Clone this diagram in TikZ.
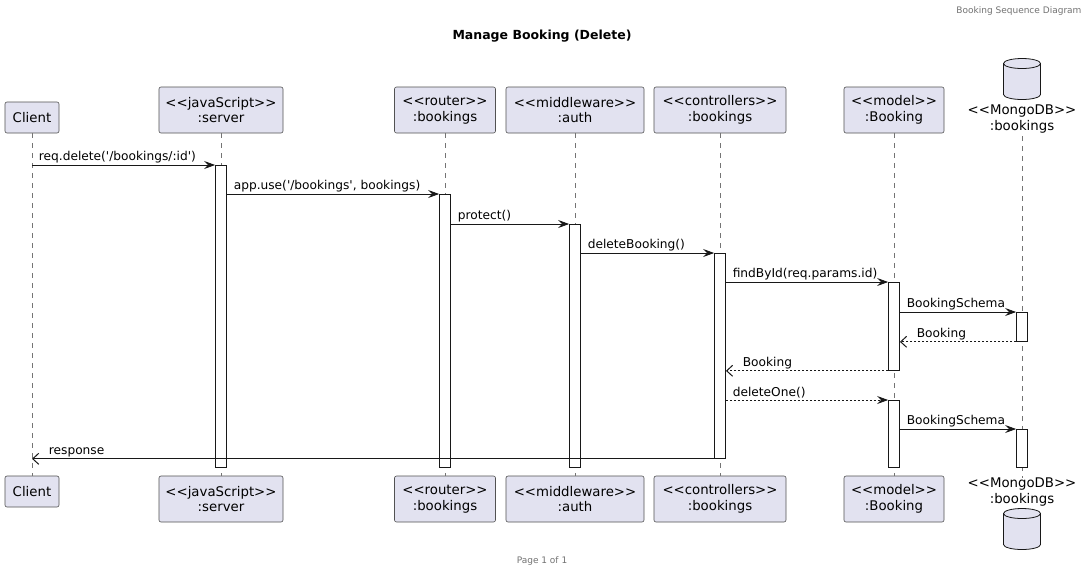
\documentclass[tikz,border=0pt]{standalone}
\usepackage{fontspec}
\setmainfont{DejaVu Sans}[Ligatures=TeXOff]
\usepackage{xcolor}
\usepackage{tikz}
\usetikzlibrary{arrows.meta}
\definecolor{boxC}{HTML}{E2E2F0}
\definecolor{lineC}{HTML}{181818}
\tikzset{
	part/.style={draw=lineC!75,fill=boxC,rounded corners=2pt,line width=0.6pt,align=center,inner sep=0pt,font=\fontsize{13.3}{15.5}\selectfont},
	dbname/.style={align=center,inner sep=0pt,font=\fontsize{13.3}{15.5}\selectfont},
	life/.style={draw=lineC!60,line width=0.5pt,dash pattern=on 5pt off 5pt},
	act/.style={draw=lineC,fill=white,line width=0.8pt,minimum width=11pt,inner sep=0pt},
	call/.style={draw=lineC,line width=0.8pt,-{Stealth[length=11pt,width=8pt,inset=4pt]}},
	ret/.style={draw=lineC,line width=0.8pt,dash pattern=on 2pt off 2pt,-{Straight Barb[length=6pt,width=11pt,line width=1pt]}},
	resp/.style={draw=lineC,line width=0.8pt,-{Straight Barb[length=6pt,width=11pt,line width=1pt]}},
	lbl/.style={anchor=south west,inner sep=1.5pt,font=\fontsize{12.2}{13}\selectfont},
	cyl/.style={draw=lineC,fill=boxC,line width=0.8pt}
}
\newcommand{\mongocyl}[2]{%
	\draw[cyl] (#1-18.5,#2-15.5) -- (#1-18.5,#2+15.5) arc[start angle=180,end angle=0,x radius=18.5,y radius=5]
		-- (#1+18.5,#2-15.5) arc[start angle=0,end angle=-180,x radius=18.5,y radius=5] -- cycle;
	\draw[cyl,fill=none] (#1-18.5,#2-15.5) arc[start angle=180,end angle=0,x radius=18.5,y radius=5];
}

\begin{document}
\begin{tikzpicture}[x=1pt,y=-1pt]
	\useasboundingbox[fill=white] (0,0) rectangle (1091,574);
	\node[anchor=east,text=black!55,font=\fontsize{9}{10}\selectfont] (hdr) at (1085,11) {Booking Sequence Diagram};
	\node[font=\bfseries\fontsize{12.5}{14}\selectfont] (title) at (542,36) {Manage Booking (Delete)};
	\node[text=black!55,font=\fontsize{9}{10}\selectfont] (ftr) at (542,561) {Page 1 of 1};
	\node[part,minimum width=54pt,minimum height=31pt] (client) at (32,117.5) {Client};
	\node[part,minimum width=124pt,minimum height=46pt] (server) at (221,110) {<<javaScript>>\\:server};
	\node[part,minimum width=101pt,minimum height=46pt] (router) at (445,110) {<<router>>\\:bookings};
	\node[part,minimum width=138pt,minimum height=46pt] (auth) at (575,110) {<<middleware>>\\:auth};
	\node[part,minimum width=132pt,minimum height=46pt] (ctrl) at (720,110) {<<controllers>>\\:bookings};
	\node[part,minimum width=100pt,minimum height=46pt] (model) at (894,110) {<<model>>\\:Booking};
	\mongocyl{1022}{79}
	\node[dbname] (db) at (1022,119) {<<MongoDB>>\\:bookings};
	\node[part,minimum width=54pt,minimum height=31pt] (clientB) at (32,491.5) {Client};
	\node[part,minimum width=124pt,minimum height=46pt] (serverB) at (221,499) {<<javaScript>>\\:server};
	\node[part,minimum width=101pt,minimum height=46pt] (routerB) at (445,499) {<<router>>\\:bookings};
	\node[part,minimum width=138pt,minimum height=46pt] (authB) at (575,499) {<<middleware>>\\:auth};
	\node[part,minimum width=132pt,minimum height=46pt] (ctrlB) at (720,499) {<<controllers>>\\:bookings};
	\node[part,minimum width=100pt,minimum height=46pt] (modelB) at (894,499) {<<model>>\\:Booking};
	\node[dbname] (dbB) at (1022,492) {<<MongoDB>>\\:bookings};
	\mongocyl{1022}{529}
	\foreach \a/\b in {client/clientB,server/serverB,router/routerB,auth/authB,ctrl/ctrlB,model/modelB}
		\draw[life] (\a.south) -- (\b.north);
	\draw[life] ([yshift=-3pt]db.south) -- (dbB.north);
	\foreach \n/\x/\t/\b in {srvAct/221/165/467,rtrAct/445/194/467,authAct/575/224/467,ctrlAct/720/253/458,mdlAct/894/282/370,dbAct/1022/312/341,mdlActB/894/400/467,dbActB/1022/429/467}
		\node[act,anchor=north,minimum height={(\b-\t)*1pt}] (\n) at (\x,\t) {};
	\draw[call] (client.south |- srvAct.north) -- (srvAct.north west) node[lbl,pos=0,xshift=5pt] {req.delete('/bookings/:id')};
	\draw[call] (srvAct.east |- rtrAct.north) -- (rtrAct.north west) node[lbl,pos=0,xshift=5pt] {app.use('/bookings', bookings)};
	\draw[call] (rtrAct.east |- authAct.north) -- (authAct.north west) node[lbl,pos=0,xshift=5pt] {protect()};
	\draw[call] (authAct.east |- ctrlAct.north) -- (ctrlAct.north west) node[lbl,pos=0,xshift=5pt] {deleteBooking()};
	\draw[call] (ctrlAct.east |- mdlAct.north) -- (mdlAct.north west) node[lbl,pos=0,xshift=5pt] {findById(req.params.id)};
	\draw[call] (mdlAct.east |- dbAct.north) -- (dbAct.north west) node[lbl,pos=0,xshift=5pt] {BookingSchema};
	\draw[ret] (dbAct.south west) -- (mdlAct.east |- dbAct.south) node[lbl,pos=1,xshift=15pt] {Booking};
	\draw[ret] (mdlAct.south west) -- (ctrlAct.east |- mdlAct.south) node[lbl,pos=1,xshift=15pt] {Booking};
	\draw[call,dash pattern=on 2pt off 2pt] (ctrlAct.east |- mdlActB.north) -- (mdlActB.north west) node[lbl,pos=0,xshift=5pt] {deleteOne()};
	\draw[call] (mdlActB.east |- dbActB.north) -- (dbActB.north west) node[lbl,pos=0,xshift=5pt] {BookingSchema};
	\draw[resp] (ctrlAct.south west) -- (client.south |- ctrlAct.south) node[lbl,pos=1,xshift=15pt] {response};
\end{tikzpicture}
\end{document}
